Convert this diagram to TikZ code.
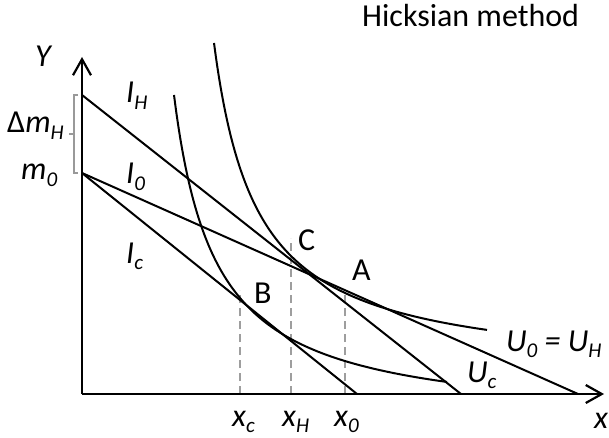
\documentclass[tikz,border=0pt]{standalone}
\usepackage{fontspec}
\setmainfont{Carlito}
\usetikzlibrary{arrows.meta}
\newcommand\sbs[1]{\raisebox{-0.2em}{\fontsize{21}{25}\selectfont #1}}
\begin{document}
\begin{tikzpicture}[x=1pt,y=-1pt,
  axis/.style={line width=2.2pt, -{Straight Barb[length=16pt,width=18pt,line width=2.2pt]}},
  budget/.style={line width=2pt},
  icurve/.style={line width=2pt},
  guide/.style={draw=black!38, line width=2.5pt, dash pattern=on 8pt off 5pt},
  bracket/.style={draw=black!40, line width=2pt},
  lbl/.style={inner sep=0pt, anchor=base west, font=\fontsize{32}{38}\selectfont\itshape},
  ptlbl/.style={inner sep=0pt, anchor=base west, font=\fontsize{32}{38}\selectfont},
]
\useasboundingbox (0,0) rectangle (609,438);

% coordinates
\coordinate (O) at (82,394);
\coordinate (Ytip) at (82,57);
\coordinate (Xtip) at (604,394);
\coordinate (mH) at (82,95);
\coordinate (m0) at (82,173);
\coordinate (IHend) at (461,394);
\coordinate (I0end) at (578,394);
\coordinate (Icend) at (357,394);
\coordinate (xc) at (240,394);
\coordinate (xH) at (291,394);
\coordinate (x0) at (345,394);
\coordinate (Btop) at (240,290);
\coordinate (Ctop) at (291,238);
\coordinate (Atop) at (345,290);

% guides
\draw[guide] (xc) -- (Btop);
\draw[guide] (xH) -- (Ctop);
\draw[guide] (x0) -- (Atop);

% axes
\draw[axis] (O) -- (Ytip);
\draw[axis] (O) -- (Xtip);

% budget lines
\draw[budget] (mH) -- (IHend);
\draw[budget] (m0) -- (I0end);
\draw[budget] (m0) -- (Icend);

% indifference curves
\draw[icurve] plot[domain=214:487, samples=120, smooth] ({\x},{375.2-14319/(\x-170.9)});
\draw[icurve] plot[domain=174:447, samples=120, smooth] ({\x},{425.6-13721/(\x-132.5)});

% bracket
\coordinate (brT) at (78,95);
\coordinate (brB) at (78,173);
\coordinate (brM) at (74,134);
\draw[bracket] (brT) -- (74,95) -- (74,173) -- (brB);
\draw[bracket] (brM) -- (69,134);

% labels
\node[lbl] (lY) at (35,67) {Y};
\node[lbl] (lIH) at (126,103) {I\sbs{H}};
\node[lbl] (ldm) at (7,133) {{\upshape Δ}m\sbs{H}};
\node[lbl] (lm0) at (21,180) {m\sbs{0}};
\node[lbl] (lI0) at (126,184) {I\sbs{0}};
\node[lbl] (lIc) at (126,263) {I\sbs{c}};
\node[ptlbl] (lC) at (298,250) {C};
\node[ptlbl] (lA) at (352,280) {A};
\node[ptlbl] (lB) at (254,303) {B};
\node[lbl] (lU0) at (506,351) {U\sbs{0} = U\sbs{H}};
\node[lbl] (lUc) at (467,382) {U\sbs{c}};
\node[lbl] (lxc) at (232,426) {x\sbs{c}};
\node[lbl] (lxH) at (282,426) {x\sbs{H}};
\node[lbl] (lx0) at (334,426) {x\sbs{0}};
\node[lbl] (lx) at (594,428) {x};
\node[ptlbl] (title) at (362,27) {Hicksian method};
\end{tikzpicture}
\end{document}
